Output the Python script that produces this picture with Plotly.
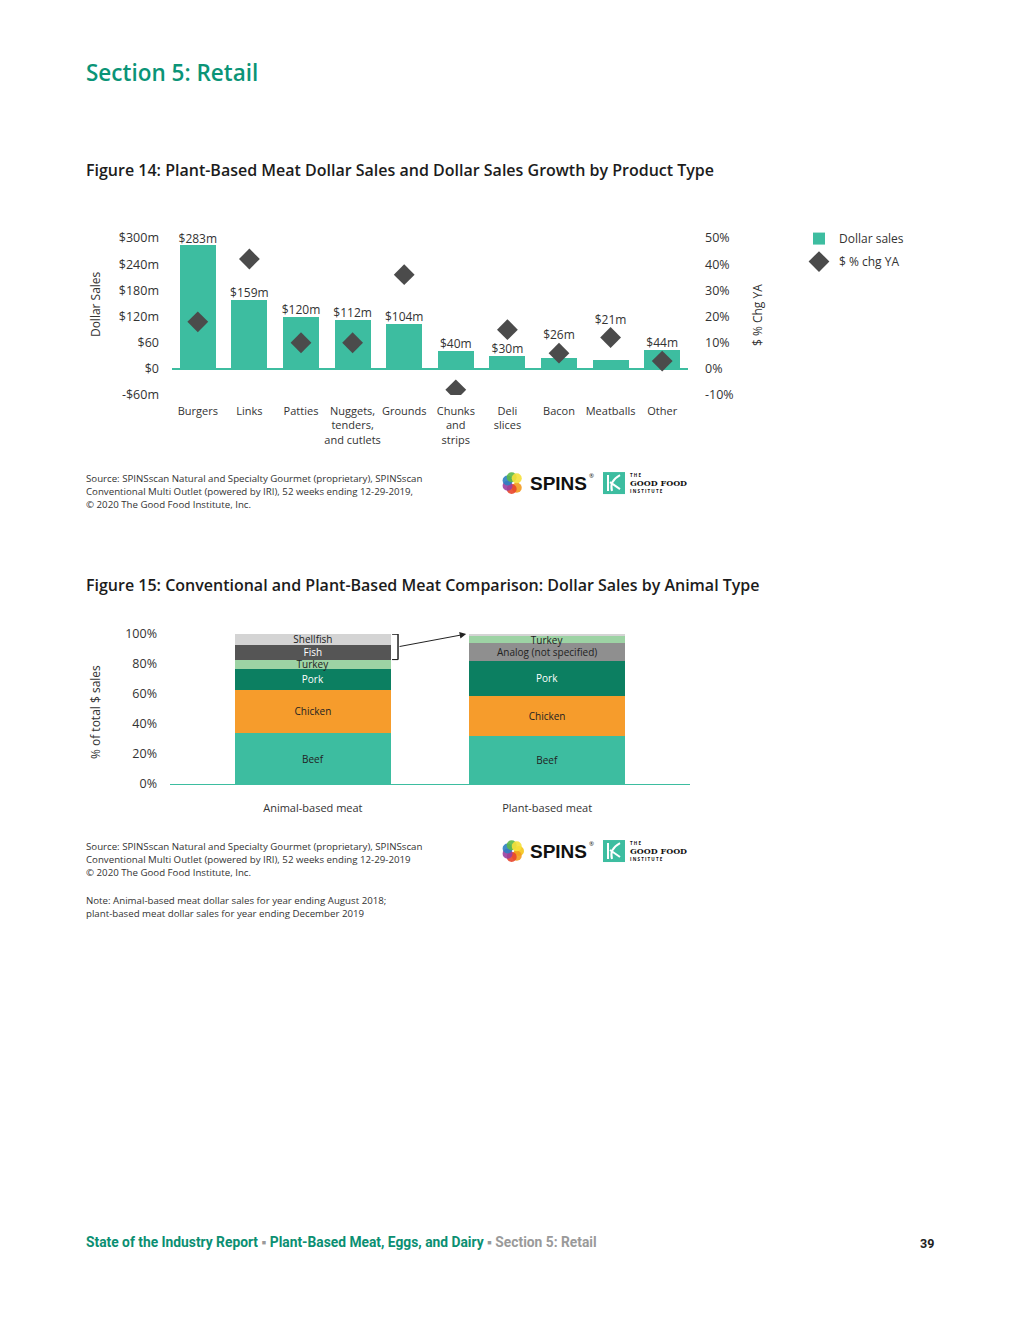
import math
import plotly.graph_objects as go

# ---------------- Figure 14 data ----------------
categories14 = ["Burgers", "Links", "Patties", "Nuggets,<br>tenders,<br>and cutlets", "Grounds",
                "Chunks<br>and<br>strips", "Deli<br>slices", "Bacon", "Meatballs", "Other"]
dollar_sales = [283, 159, 120, 112, 104, 40, 30, 26, 21, 44]          # $ millions
sales_labels = ["$283m", "$159m", "$120m", "$112m", "$104m", "$40m", "$30m", "$26m", "$21m", "$44m"]
pct_chg = [18, 42, 10, 10, 36, -8, 15, 6, 12, 3]                      # % change vs year ago

left_tickvals = [-60, 0, 60, 120, 180, 240, 300]
left_ticktext = ["-$60m", "$0", "$60", "$120m", "$180m", "$240m", "$300m"]
right_tickvals = [-10, 0, 10, 20, 30, 40, 50]
right_ticktext = ["-10%", "0%", "10%", "20%", "30%", "40%", "50%"]

# ---------------- Figure 15 data ----------------
groups15 = ["Animal-based meat", "Plant-based meat"]
beef = [34, 32]
chicken = [29, 27]
pork = [14, 23]
analog = [0, 12]
turkey = [6, 4.5]
fish = [10, 0]
shellfish = [7, 1.5]
pct_tickvals = [0, 20, 40, 60, 80, 100]
pct_ticktext = ["0%", "20%", "40%", "60%", "80%", "100%"]

W, H = 1020, 1320
def px(x):
    return x / W
def py(y):
    # page-pixel to paper fraction (compensates the capture's slight vertical fit)
    yy = (y - 8.9) / 0.9872
    return 1 - yy / H

FONT = "'Open Sans', 'Noto Sans', sans-serif"
TEAL = "#3dbda0"
DARK = "#333333"
GREEN_TITLE = "#0b9477"

fig = go.Figure()

# ---- Figure 14 traces ----
fig.add_trace(go.Bar(x=categories14, y=dollar_sales, name="Dollar sales", legendgroup="a",
                     marker=dict(color=TEAL, line=dict(width=0)), width=0.7,
                     xaxis="x", yaxis="y", hoverinfo="skip"))
fig.add_trace(go.Scatter(x=categories14, y=pct_chg, name="$ % chg YA", mode="markers", legendgroup="b",
                         marker=dict(symbol="diamond", size=16, color="#4b4b4b"),
                         xaxis="x", yaxis="y2", hoverinfo="skip"))

# label anchors: move label above the diamond when the diamond sits just above the bar
ratio = 300 / 50
label_y = []
for v, g in zip(dollar_sales, pct_chg):
    gy = g * ratio
    if v < gy < v + 55:
        label_y.append(gy + 25)
    else:
        label_y.append(v)
fig.add_trace(go.Scatter(x=categories14, y=label_y, mode="text", text=sales_labels,
                         textposition="top center", textfont=dict(size=12, color=DARK, family=FONT),
                         showlegend=False, hoverinfo="skip", cliponaxis=False,
                         xaxis="x", yaxis="y"))

# ---- Figure 15 traces ----
segments = [
    ("Beef", beef, TEAL, "#222222"),
    ("Chicken", chicken, "#f69c2c", "#222222"),
    ("Pork", pork, "#0c7f61", "white"),
    ("Analog (not specified)", analog, "#8f8f8f", "#222222"),
    ("Turkey", turkey, "#9dd3a4", "#222222"),
    ("Fish", fish, "#555555", "white"),
    ("Shellfish", shellfish, "#d4d4d4", "#222222"),
]
for name, vals, col, tcol in segments:
    txt = [name if v >= 4 else "" for v in vals]
    fig.add_trace(go.Bar(x=groups15, y=vals, name=name, width=0.667,
                         marker=dict(color=col, line=dict(width=0)),
                         text=txt, textposition="inside", insidetextanchor="middle",
                         textfont=dict(size=10, color=tcol, family=FONT),
                         texttemplate="%{text}",
                         showlegend=False, hoverinfo="skip", xaxis="x2", yaxis="y3"))

# bracket + arrow derived from data
lower = beef[0] + chicken[0] + pork[0] + turkey[0]
upper = lower + fish[0] + shellfish[0]
edge = 0.667 / 2
fig.add_shape(type="path", xref="x2", yref="y3",
              path=f"M {edge+0.005},{lower} L {edge+0.03},{lower} L {edge+0.03},{upper} L {edge+0.005},{upper}",
              line=dict(color="#222", width=1))

plant_top = beef[1] + chicken[1] + pork[1] + analog[1] + turkey[1] + shellfish[1]

ann = []
ann.append(dict(x=1 - edge - 0.012, y=plant_top, xref="x2", yref="y3", ax=edge + 0.03,
                ay=(lower + upper) / 2, axref="x2", ayref="y3", text="", showarrow=True,
                arrowhead=2, arrowsize=1.3, arrowwidth=1, arrowcolor="#222"))

# ---- page texts ----
def text(x, y, s, size, color=DARK, bold=False, xanchor="left", yanchor="middle", angle=0,
         align="left", family=FONT, weight=None):
    f = dict(size=size, color=color, family=family)
    if weight is not None:
        f["weight"] = weight
    ann.append(dict(x=px(x), y=py(y), xref="paper", yref="paper", text=(f"<b>{s}</b>" if bold else s),
                    showarrow=False, xanchor=xanchor, yanchor=yanchor, textangle=angle, align=align,
                    font=f))

text(84, 72, "Section 5: Retail", 22.5, GREEN_TITLE, weight=600)
text(84, 170, "Figure 14: Plant-Based Meat Dollar Sales and Dollar Sales Growth by Product Type", 16, "#1c1c1c", weight=600)
text(95, 304, "Dollar Sales", 12, DARK, xanchor="center", angle=-90)
text(757, 315, "$ % Chg YA", 12, DARK, xanchor="center", angle=-90)
src1 = ["Source: SPINSscan Natural and Specialty Gourmet (proprietary), SPINSscan",
        "Conventional Multi Outlet (powered by IRI), 52 weeks ending 12-29-2019,",
        "© 2020 The Good Food Institute, Inc."]
for i, line in enumerate(src1):
    text(84, 478 + 13.3 * i, line, 9.7, DARK)

text(84, 585, "Figure 15: Conventional and Plant-Based Meat Comparison: Dollar Sales by Animal Type", 16, "#1c1c1c", weight=600)
text(95, 712, "% of total $ sales", 12, DARK, xanchor="center", angle=-90)
src2 = ["Source: SPINSscan Natural and Specialty Gourmet (proprietary), SPINSscan",
        "Conventional Multi Outlet (powered by IRI), 52 weeks ending 12-29-2019",
        "© 2020 The Good Food Institute, Inc."]
for i, line in enumerate(src2):
    text(84, 846 + 13.3 * i, line, 9.7, DARK)
note = ["Note: Animal-based meat dollar sales for year ending August 2018;",
        "plant-based meat dollar sales for year ending December 2019"]
for i, line in enumerate(note):
    text(84, 900 + 13.5 * i, line, 9.7, DARK)

footer = ("<b><span style='color:#0b8f72'>State of the Industry Report</span>"
          "<span style='color:#9a9a9a'> ▪ </span>"
          "<span style='color:#0b8f72'>Plant-Based Meat, Eggs, and Dairy</span>"
          "<span style='color:#9a9a9a'> ▪ Section 5: Retail</span></b>")
text(84, 1242, footer, 13.8, family="Roboto, sans-serif")
text(927, 1243, "39", 12.5, "#222", bold=True, xanchor="center", family="Roboto, sans-serif")

# ---- logos (decorative) ----
shapes = []
def logos(cy):
    ring = ["#f5c518", "#f39a1e", "#e8452c", "#9b3fa0", "#2e7fc2", "#5db848", "#f5e03a"]
    for i, c in enumerate(ring):
        a = 2 * math.pi * i / len(ring)
        x = 513 + 6 * math.cos(a)
        y = cy + 6 * math.sin(a)
        shapes.append(dict(type="circle", xref="paper", yref="paper",
                           x0=px(x - 5), x1=px(x + 5), y0=py(y + 5), y1=py(y - 5),
                           fillcolor=c, line=dict(width=0), opacity=0.9))
    text(528, cy, "SPINS", 19, "#111", bold=True, family="'Liberation Sans', Arial, sans-serif")
    text(587, cy - 7, "®", 6, "#111")
    shapes.append(dict(type="rect", xref="paper", yref="paper", x0=px(603), x1=px(625),
                       y0=py(cy + 11), y1=py(cy - 11), fillcolor="#3dbda0", line=dict(width=0)))
    shapes.append(dict(type="path", xref="paper", yref="paper",
                       path=f"M {px(608)},{py(cy-8)} L {px(608)},{py(cy+8)} M {px(620)},{py(cy-8)} "
                            f"Q {px(609)},{py(cy-2)} {px(612)},{py(cy+8)} M {px(610)},{py(cy-1)} L {px(620)},{py(cy+6)}",
                       line=dict(color="white", width=2)))
    text(628, cy - 8, "T H E", 4.5, "#111", bold=True)
    text(628, cy, "GOOD FOOD", 8, "#111", bold=True, family="'DejaVu Serif', serif")
    text(628, cy + 8, "I N S T I T U T E", 4.5, "#111", bold=True)

logos(483)
logos(851)

axis_font = dict(size=12.5, color=DARK, family=FONT)

fig.update_layout(
    width=W, height=H, autosize=False,
    margin=dict(l=0, r=0, t=0, b=0, pad=0),
    paper_bgcolor="white", plot_bgcolor="white",
    font=dict(family=FONT, color=DARK),
    barmode="stack",
    uniformtext=dict(minsize=10, mode="show"),
    showlegend=True,
    legend=dict(x=px(799), y=py(224), xanchor="left", yanchor="top", traceorder="grouped",
                font=dict(size=12, color=DARK, family=FONT), bgcolor="rgba(0,0,0,0)",
                itemwidth=30, tracegroupgap=4),
    xaxis=dict(domain=[px(172), px(688)], anchor="y", showgrid=False, showline=False, ticks="",
               tickangle=0,
               tickfont=dict(size=11, color=DARK, family=FONT), ticklabelstandoff=8,
               range=[-0.5, 9.5]),
    yaxis=dict(domain=[py(395), py(238)], anchor="x", range=[-60, 300], showgrid=False,
               tickvals=left_tickvals, ticktext=left_ticktext, tickfont=axis_font,
               zeroline=True, zerolinecolor=TEAL, zerolinewidth=1.5, showline=False,
               ticklabelstandoff=12),
    yaxis2=dict(overlaying="y", side="right", anchor="x", range=[-10, 50], showgrid=False,
                tickvals=right_tickvals, ticktext=right_ticktext, tickfont=axis_font,
                zeroline=False, showline=False, ticklabelstandoff=16),
    xaxis2=dict(domain=[px(170), px(690)], anchor="y3", showgrid=False, showline=True,
                linecolor=TEAL, linewidth=1.2, ticks="", range=[-0.61, 1.61], tickangle=0,
                tickfont=dict(size=11, color=DARK, family=FONT), ticklabelstandoff=14),
    yaxis3=dict(domain=[py(784), py(634)], anchor="x2", range=[0, 100], showgrid=False,
                tickvals=pct_tickvals, ticktext=pct_ticktext, tickfont=axis_font,
                zeroline=False, showline=False, ticklabelstandoff=12),
    annotations=ann,
    shapes=shapes + list(fig.layout.shapes),
)

post = (
    "document.body.style.margin='0px';"
    "document.body.style.overflow='hidden';"
)
fig.write_html("out.html", config={"displayModeBar": False}, post_script=post)
